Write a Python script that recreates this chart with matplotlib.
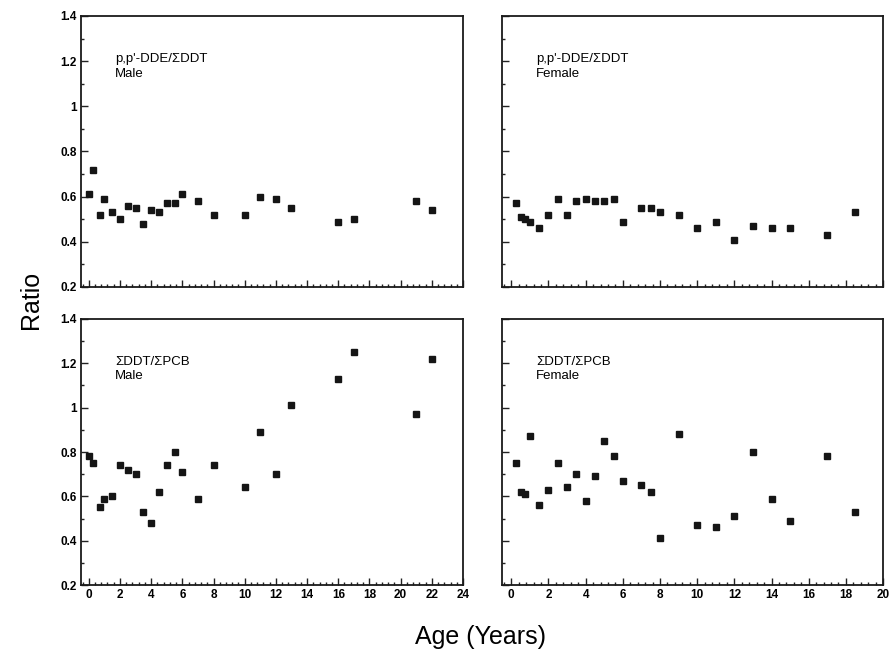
import numpy as np
import matplotlib.pyplot as plt
from matplotlib.ticker import MultipleLocator

plt.rcParams['font.family'] = ['Liberation Sans', 'DejaVu Sans']

# p,p'-DDE / sum DDT, males
dde_male_age = [0, 0.25, 0.75, 1, 1.5, 2, 2.5, 3, 3.5, 4, 4.5, 5, 5.5, 6, 7, 8,
                10, 11, 12, 13, 16, 17, 21, 22]
dde_male_ratio = [0.61, 0.72, 0.52, 0.59, 0.53, 0.50, 0.56, 0.55, 0.48, 0.54, 0.53, 0.57,
                  0.57, 0.61, 0.58, 0.52, 0.52, 0.60, 0.59, 0.55, 0.49, 0.50, 0.58, 0.54]

# p,p'-DDE / sum DDT, females
dde_female_age = [0.25, 0.5, 0.75, 1, 1.5, 2, 2.5, 3, 3.5, 4, 4.5, 5, 5.5, 6, 7, 7.5,
                  8, 9, 10, 11, 12, 13, 14, 15, 17, 18.5]
dde_female_ratio = [0.57, 0.51, 0.50, 0.49, 0.46, 0.52, 0.59, 0.52, 0.58, 0.59, 0.58, 0.58,
                    0.59, 0.49, 0.55, 0.55, 0.53, 0.52, 0.46, 0.49, 0.41, 0.47, 0.46, 0.46,
                    0.43, 0.53]

# sum DDT / sum PCB, males
pcb_male_age = [0, 0.25, 0.75, 1, 1.5, 2, 2.5, 3, 3.5, 4, 4.5, 5, 5.5, 6, 7, 8,
                10, 11, 12, 13, 16, 17, 21, 22]
pcb_male_ratio = [0.78, 0.75, 0.55, 0.59, 0.60, 0.74, 0.72, 0.70, 0.53, 0.48, 0.62, 0.74,
                  0.80, 0.71, 0.59, 0.74, 0.64, 0.89, 0.70, 1.01, 1.13, 1.25, 0.97, 1.22]

# sum DDT / sum PCB, females
pcb_female_age = [0.25, 0.5, 0.75, 1, 1.5, 2, 2.5, 3, 3.5, 4, 4.5, 5, 5.5, 6, 7, 7.5,
                  8, 9, 10, 11, 12, 13, 14, 15, 17, 18.5]
pcb_female_ratio = [0.75, 0.62, 0.61, 0.87, 0.56, 0.63, 0.75, 0.64, 0.70, 0.58, 0.69, 0.85,
                    0.78, 0.67, 0.65, 0.62, 0.41, 0.88, 0.47, 0.46, 0.51, 0.80, 0.59, 0.49,
                    0.78, 0.53]

panels = [
    # (left, bottom, width, height), x, y, title, sex, xmax, show y labels, show x labels
    ((0.0911, 0.5605, 0.4297, 0.4150), dde_male_age, dde_male_ratio, "p,p'-DDE/\u03a3DDT", "Male", 24, True, False),
    ((0.5647, 0.5605, 0.4286, 0.4150), dde_female_age, dde_female_ratio, "p,p'-DDE/\u03a3DDT", "Female", 20, False, False),
    ((0.0911, 0.1041, 0.4297, 0.4074), pcb_male_age, pcb_male_ratio, "\u03a3DDT/\u03a3PCB", "Male", 24, True, True),
    ((0.5647, 0.1041, 0.4286, 0.4074), pcb_female_age, pcb_female_ratio, "\u03a3DDT/\u03a3PCB", "Female", 20, False, True),
]

fig = plt.figure(figsize=(8.89, 6.53), dpi=100)

for rect, x, y, title, sex, xmax, ylab, xlab in panels:
    ax = fig.add_axes(rect)
    ax.plot(x, y, linestyle="none", marker="s", markersize=3.8, color="#151515")
    ax.set_xlim(-0.5, xmax)
    ax.set_ylim(0.2, 1.4)
    ax.xaxis.set_major_locator(MultipleLocator(2))
    ax.xaxis.set_minor_locator(MultipleLocator(0.4))
    ax.yaxis.set_major_locator(MultipleLocator(0.2))
    ax.yaxis.set_minor_locator(MultipleLocator(0.1))
    ax.tick_params(which="both", direction="in", top=False, right=False, width=1.0,
                   labelsize=8.5, pad=3, color="#222222")
    ax.tick_params(which="major", length=5)
    ax.tick_params(which="minor", length=2.5)
    ax.yaxis.set_major_formatter(plt.FuncFormatter(lambda v, p: f"{v:g}"))
    if not ylab:
        ax.tick_params(axis="y", labelleft=False)
    if not xlab:
        ax.tick_params(axis="x", labelbottom=False)
    for s in ax.spines.values():
        s.set_linewidth(1.3)
        s.set_color("#1a1a1a")
    for lbl in ax.get_xticklabels() + ax.get_yticklabels():
        lbl.set_fontweight("bold")
    ax.text(0.09, 0.84, title, transform=ax.transAxes, fontsize=9.5, va="center", ha="left")
    ax.text(0.09, 0.787, sex, transform=ax.transAxes, fontsize=9.5, va="center", ha="left")

fig.text(0.035, 0.54, "Ratio", rotation=90, fontsize=18, va="center", ha="center")
fig.text(0.54, 0.025, "Age (Years)", fontsize=18, va="center", ha="center")

fig.savefig("out.png", dpi=100)
